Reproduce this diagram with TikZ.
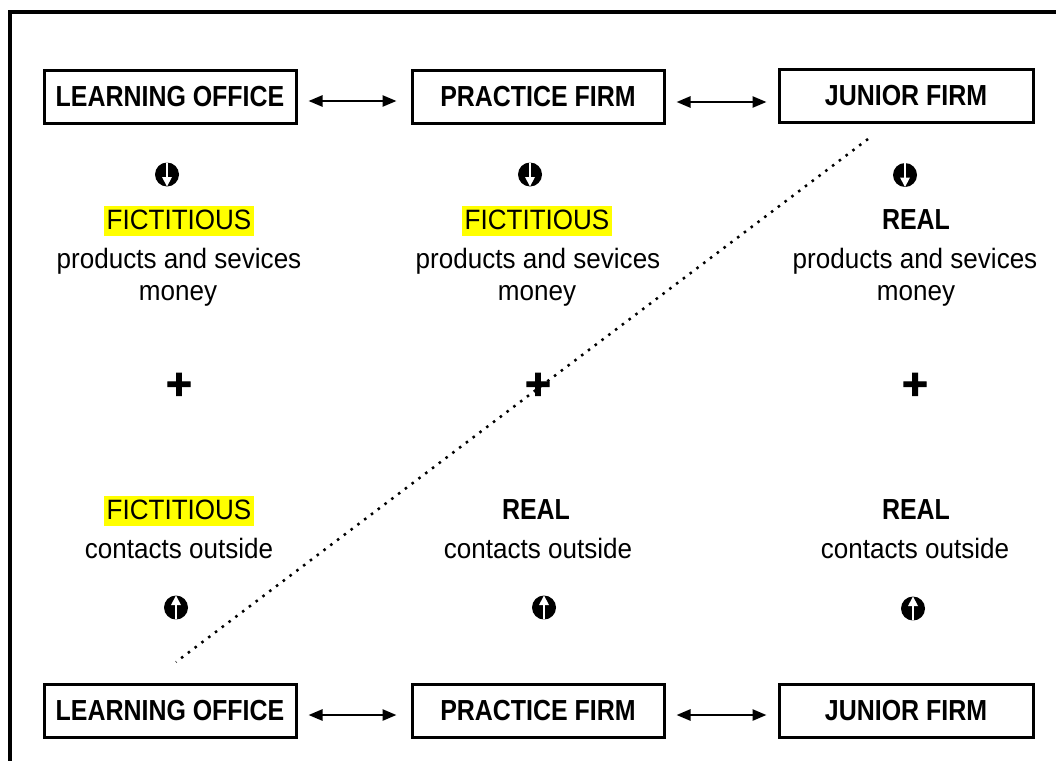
\documentclass[tikz,border=0pt]{standalone}
\usepackage{fontspec}
\setmainfont{Liberation Sans}[FakeStretch=0.93]
\newfontfamily\headfont{Liberation Sans}[FakeStretch=0.86]
\newfontfamily\plusfont{Liberation Sans}[FakeBold=2.5]
\usetikzlibrary{arrows.meta,calc}

\definecolor{hl}{RGB}{255,255,0}

\tikzset{
  box/.style={draw, line width=3pt, minimum width=252pt, minimum height=53pt,
    inner sep=0pt, font=\headfont\bfseries\fontsize{29}{34}\selectfont},
  link/.style={line width=2.5pt,
    {Triangle[length=14pt,width=11pt]}-{Triangle[length=14pt,width=11pt]}},
  txt/.style={anchor=base, inner sep=0pt, font=\fontsize{28}{32}\selectfont},
  hilite/.style={txt, fill=hl, inner xsep=2.5pt, text height=23pt, text depth=7pt},
  kind/.style={anchor=base, inner sep=0pt,
    font=\headfont\bfseries\fontsize{29}{34}\selectfont},
  plus/.style={inner sep=0pt, font=\plusfont\bfseries\fontsize{44}{44}\selectfont},
  downmark/.style={circle, fill=black, minimum size=24pt, inner sep=0pt,
    path picture={
      \coordinate (pc) at (path picture bounding box.center);
      \fill[white] ($(pc)+(-1.2,-13)$) rectangle ($(pc)+(1.2,3)$);
      \fill[white] ($(pc)+(-5,2.5)$) -- ($(pc)+(5,2.5)$) -- ($(pc)+(0,12)$) -- cycle;
    }},
  upmark/.style={circle, fill=black, minimum size=24pt, inner sep=0pt,
    path picture={
      \coordinate (pc) at (path picture bounding box.center);
      \fill[white] ($(pc)+(-1.2,13)$) rectangle ($(pc)+(1.2,-3)$);
      \fill[white] ($(pc)+(-5,-2.5)$) -- ($(pc)+(5,-2.5)$) -- ($(pc)+(0,-12)$) -- cycle;
    }},
  dots/.style={line width=2.5pt, dash pattern=on 2.5pt off 6pt}
}

\begin{document}
\begin{tikzpicture}[x=1pt,y=-1pt]
  \useasboundingbox (0,0) rectangle (1056,760);
  \clip (0,0) rectangle (1056,760);

  % outer frame (open to the right and bottom)
  \draw[line width=3.5pt] (10,790) -- (10,12) -- (1090,12);

  % top row of boxes
  \node[box] (lo1) at (170,96.5) {LEARNING OFFICE};
  \node[box] (pf1) at (538,96.5) {PRACTICE FIRM};
  \node[box, minimum width=254pt] (jf1) at (906,95.5) {JUNIOR FIRM};
  \draw[link] ($(lo1.east)+(11,4.5)$) -- ($(pf1.west)+(-14,4.5)$);
  \draw[link] ($(pf1.east)+(11,5.5)$) -- ($(jf1.west)+(-11,6.5)$);

  % bottom row of boxes
  \node[box] (lo2) at (170,710.5) {LEARNING OFFICE};
  \node[box] (pf2) at (538,710.5) {PRACTICE FIRM};
  \node[box, minimum width=254pt] (jf2) at (906,710.5) {JUNIOR FIRM};
  \draw[link] ($(lo2.east)+(11,4.5)$) -- ($(pf2.west)+(-14,4.5)$);
  \draw[link] ($(pf2.east)+(11,4.5)$) -- ($(jf2.west)+(-11,4.5)$);

  % diagonal dotted separator
  \coordinate (sepA) at (868,139);
  \coordinate (sepB) at (176,662);
  \draw[dots] (sepA) -- (sepB);

  % downward markers
  \node[downmark] (d1) at (167,174.5) {};
  \node[downmark] (d2) at (530,174.5) {};
  \node[downmark] (d3) at (905,175) {};

  % upper text block
  \node[hilite] (f1) at (179,229) {FICTITIOUS};
  \node[txt] (p1) at (179,268) {products and sevices};
  \node[txt] (m1) at (178,300) {money};

  \node[hilite] (f2) at (537,229) {FICTITIOUS};
  \node[txt] (p2) at (538,268) {products and sevices};
  \node[txt] (m2) at (537,300) {money};

  \node[kind] (r3) at (916,229) {REAL};
  \node[txt] (p3) at (915,268) {products and sevices};
  \node[txt] (m3) at (916,300) {money};

  % plus signs
  \node[plus] (s1) at (179,386) {+};
  \node[plus] (s2) at (538,386) {+};
  \node[plus] (s3) at (915,386) {+};

  % lower text block
  \node[hilite] (f4) at (179,519) {FICTITIOUS};
  \node[txt] (c1) at (179,558) {contacts outside};

  \node[kind] (r5) at (536,519) {REAL};
  \node[txt] (c2) at (538,558) {contacts outside};

  \node[kind] (r6) at (916,519) {REAL};
  \node[txt] (c3) at (915,558) {contacts outside};

  % upward markers
  \node[upmark] (u1) at (176,607.5) {};
  \node[upmark] (u2) at (544,607.5) {};
  \node[upmark] (u3) at (913,608.5) {};
\end{tikzpicture}
\end{document}
